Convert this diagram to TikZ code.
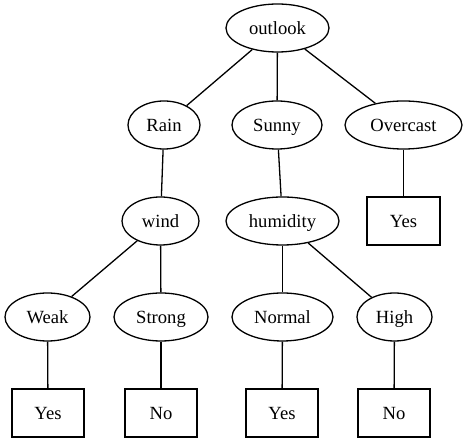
\documentclass[tikz,border=0pt]{standalone}
\usepackage{fontspec}
\setmainfont{Liberation Serif}
\usetikzlibrary{shapes.geometric}
\begin{document}
\begin{tikzpicture}[x=1pt,y=-1pt,
  every node/.style={font=\fontsize{18.6}{22}\selectfont, inner sep=0pt, text height=16pt, text depth=3pt, line width=1.3pt, draw=black},
  attr/.style={ellipse, minimum height=48pt},
  leaf/.style={rectangle, minimum width=72pt, minimum height=48pt},
  edge/.style={line width=1.3pt}]
\useasboundingbox (0,0) rectangle (467,443);
% attribute and value nodes
\node[attr, minimum width=103pt] (outlook) at (277.5,28) {outlook};
\node[attr, minimum width=72pt]  (rain)    at (164,125) {Rain};
\node[attr, minimum width=90pt]  (sunny)   at (277,125) {Sunny};
\node[attr, minimum width=117pt] (overcast) at (403.5,125) {Overcast};
\node[attr, minimum width=77pt]  (wind)    at (160.5,221) {wind};
\node[attr, minimum width=113pt] (humidity) at (282.5,221) {humidity};
\node[leaf, minimum width=73pt]  (yesO)    at (403.5,221) {Yes};
\node[attr, minimum width=85pt]  (weak)    at (47.5,317) {Weak};
\node[attr, minimum width=94pt]  (strong)  at (161,317) {Strong};
\node[attr, minimum width=101pt] (normal)  at (282.5,317) {Normal};
\node[attr, minimum width=75pt]  (high)    at (394.5,317) {High};
% leaves
\node[leaf] (yesW)  at (48,413) {Yes};
\node[leaf] (noS)   at (161,413) {No};
\node[leaf] (yesN)  at (282,413) {Yes};
\node[leaf] (noH)   at (394,413) {No};
% edges
\draw[edge] (outlook) -- (rain);
\draw[edge] (outlook) -- (sunny);
\draw[edge] (outlook) -- (overcast);
\draw[edge] (rain) -- (wind);
\draw[edge] (sunny) -- (humidity);
\draw[edge] (overcast) -- (yesO);
\draw[edge] (wind) -- (weak);
\draw[edge] (wind) -- (strong);
\draw[edge] (humidity) -- (normal);
\draw[edge] (humidity) -- (high);
\draw[edge] (weak) -- (yesW);
\draw[edge] (strong) -- (noS);
\draw[edge] (normal) -- (yesN);
\draw[edge] (high) -- (noH);
\end{tikzpicture}
\end{document}
